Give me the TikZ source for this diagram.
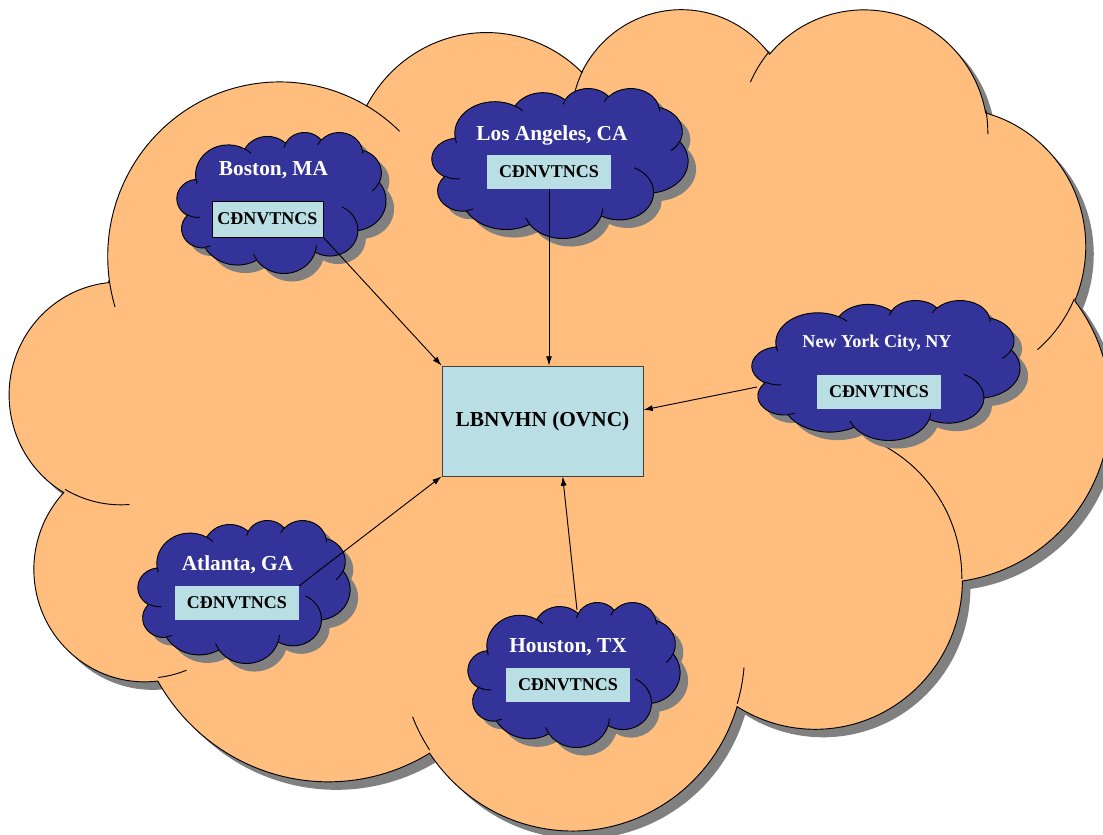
\documentclass[tikz,border=0pt]{standalone}
\usepackage{fontspec}
\setmainfont{Liberation Serif}
\usetikzlibrary{arrows.meta,calc}
\definecolor{cloudorange}{RGB}{255,190,125}
\definecolor{cloudblue}{RGB}{51,51,153}
\definecolor{boxcyan}{RGB}{185,223,228}
\definecolor{shadowgray}{RGB}{128,128,128}

% elliptical arc in the manner of DrawingML arcTo (geometric angles)
\newcommand\oa[4]{%
  \pgfextra{%
    \pgfmathsetmacro\ooTs{atan2((#1)*sin(#3),(#2)*cos(#3))}%
    \pgfmathsetmacro\ooTe{atan2((#1)*sin((#3)+(#4)),(#2)*cos((#3)+(#4)))}%
    \pgfmathsetmacro\ooD{mod(\ooTe-(\ooTs)+720,360)}%
    \xdef\ooTs{\ooTs}\xdef\ooD{\ooD}%
  }%
  arc[start angle=\ooTs, delta angle=\ooD, x radius=#1, y radius=#2]%
}
\newcommand\cloudouter{(3.9,14.37) \oa{6.753}{9.19}{-190.4875}{123.7805}
 \oa{5.333}{7.267}{-144.1024}{89.9452}
 \oa{4.365}{5.945}{-145.8079}{99.7230}
 \oa{4.857}{6.595}{-130.9861}{117.2417}
 \oa{5.333}{7.273}{-78.7089}{109.0269}
 \oa{6.775}{9.22}{-46.2673}{130.2690}
 \oa{5.785}{7.867}{0.6250}{114.0333}
 \oa{6.752}{9.215}{22.4516}{115.1726}
 \oa{7.72}{10.543}{66.2426}{75.7110}
 \oa{4.36}{5.918}{-274.9421}{146.7356}
 \oa{4.345}{5.945}{-246.8285}{152.5189} -- cycle}
\newcommand\cloudinner{(4.693,26.177) \oa{4.345}{5.945}{86.7420}{26.4295}
 (6.928,34.899) \oa{4.36}{5.918}{73.6105}{11.4475}
 (16.478,39.09) \oa{6.752}{9.215}{137.6242}{14.0811}
 (28.827,34.751) \oa{6.752}{9.215}{6.4533}{15.9984}
 (34.129,22.954) \oa{5.785}{7.867}{-70.2924}{70.9174}
 (41.798,15.354) \oa{5.333}{7.273}{30.3180}{27.7515}
 (38.324,5.426) \oa{4.857}{6.595}{-13.7443}{14.8589}
 (29.078,3.952) \oa{4.857}{6.595}{-149.1815}{18.1954}
 (22.141,4.72) \oa{4.365}{5.945}{-163.4943}{17.6864}
 (14,5.192) \oa{6.753}{9.19}{-66.7070}{12.3194}
 (4.127,15.789) \oa{6.753}{9.19}{157.6544}{11.8582}}

% #1 x0, #2 y0, #3 width, #4 height, #5 fill colour (pixel units, y down)
\newcommand\drawcloud[5]{%
  \begin{scope}[shift={(#1+8,#2+8)}, x={({#3/43.2*0.75pt},0pt)}, y={(0pt,{-#4/43.2*0.75pt})}]
    \fill[shadowgray] \cloudouter;
  \end{scope}
  \begin{scope}[shift={(#1,#2)}, x={({#3/43.2*0.75pt},0pt)}, y={(0pt,{-#4/43.2*0.75pt})}]
    \fill[#5] \cloudouter;
    \draw[outline] \cloudouter;
    \draw[outline] \cloudinner;
  \end{scope}}

\tikzset{
  outline/.style={draw=black, line width=0.7pt},
  citybox/.style={fill=boxcyan, inner sep=0pt, font=\fontsize{13.5}{15}\selectfont\bfseries,
    minimum width=124*0.75pt, minimum height=34*0.75pt},
  hubbox/.style={fill=boxcyan, draw=black!75, line width=0.6pt, inner sep=0pt,
    font=\fontsize{16}{18}\selectfont\bfseries, minimum width=201*0.75pt, minimum height=110*0.75pt},
  citylabel/.style={text=white, anchor=base, inner sep=0pt, font=\fontsize{16}{18}\selectfont\bfseries},
  arr/.style={draw=black, line width=0.7pt, -{Latex[length=7pt, width=4.5pt]}}
}

\begin{document}
\begin{tikzpicture}[x=0.75pt, y=-0.75pt]
\useasboundingbox (0,0) rectangle (1103,835);

\drawcloud{10}{7}{1100}{821}{cloudorange}
\drawcloud{177}{132}{209}{141}{cloudblue}
\drawcloud{432}{88}{256}{150}{cloudblue}
\drawcloud{752}{300}{268}{140}{cloudblue}
\drawcloud{138}{520}{212}{143}{cloudblue}
\drawcloud{468}{602}{212}{145}{cloudblue}

\node[hubbox] (hub) at (542.5,421) {LBNVHN (OVNC)};

\node[citylabel] (boslbl) at (273.5,175) {Boston, MA};
\node[citybox, draw=black, line width=0.7pt, minimum width=111*0.75pt, minimum height=36*0.75pt] (bosbox) at (267.5,219) {CĐNVTNCS};

\node[citylabel] (lalbl) at (552,140) {Los Angeles, CA};
\node[citybox] (labox) at (549,172) {CĐNVTNCS};

\node[citylabel, font=\fontsize{13.6}{15}\selectfont\bfseries] (nyclbl) at (877,347) {New York City, NY};
\node[citybox] (nycbox) at (879,391.5) {CĐNVTNCS};

\node[citylabel] (atllbl) at (237.5,570) {Atlanta, GA};
\node[citybox] (atlbox) at (237,603) {CĐNVTNCS};

\node[citylabel] (houlbl) at (568,652) {Houston, TX};
\node[citybox] (houbox) at (568,685) {CĐNVTNCS};

\coordinate (nycstart) at (757,387);
\coordinate (houstart) at (577,610);

\draw[arr] (bosbox.south east) -- (hub.north west);
\draw[arr] (labox.south) -- (labox.south |- hub.north);
\draw[arr] (nycstart) -- ($(hub.north east)!0.4!(hub.south east)$);
\draw[arr] (atlbox.north east) -- (hub.south west);
\draw[arr] (houstart) -- ($(hub.south west)!0.6!(hub.south east)$);
\end{tikzpicture}
\end{document}
